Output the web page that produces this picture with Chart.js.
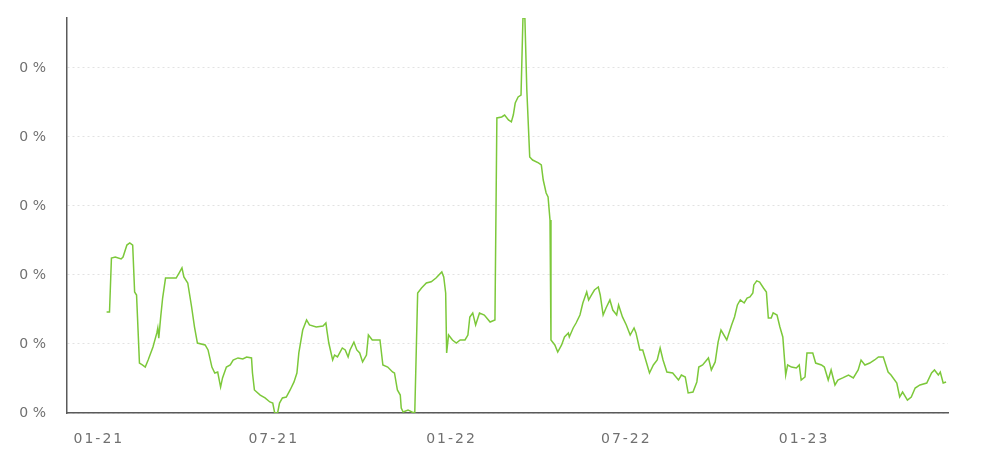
<!DOCTYPE html>
<html>
<head>
<meta charset="utf-8">
<script src="https://cdn.jsdelivr.net/npm/chart.js@4.4.1/dist/chart.umd.min.js"></script>
<style>
    html, body { margin: 0; padding: 0; background: #fff; }
    #wrap { width: 995px; height: 449px; }
</style>
</head>
<body>
<div id="wrap"><canvas id="graficoLinha"></canvas></div>
<script>
// dias contados a partir de 01/01/2021
const dias = [
    8, 11, 13, 17, 23, 25, 29, 32, 35, 37, 39, 42, 45, 48, 51, 56, 60, 61, 62, 64,
    66, 69, 73, 80, 83, 86, 88, 92, 96, 99, 102, 110, 113, 117, 120, 123, 126, 128, 132, 136,
    139, 144, 149, 153, 158, 159, 161, 167, 172, 177, 180, 182, 185, 187, 190, 194, 198, 202, 205, 207,
    211, 215, 218, 225, 232, 235, 236, 238, 242, 244, 247, 252, 255, 258, 260, 264, 267, 270, 273, 277,
    279, 283, 291, 294, 299, 304, 306, 309, 312, 313, 315, 320, 324, 327, 330, 334, 339, 344, 349, 355,
    357, 359, 360, 362, 366, 370, 374, 379, 382, 384, 387, 390, 394, 399, 405, 410, 412, 417, 420, 424,
    427, 429, 431, 434, 437, 439, 441, 443, 446, 449, 455, 458, 460, 463, 465, 467, 468, 472, 475, 479,
    482, 486, 487, 491, 494, 498, 501, 505, 507, 510, 513, 517, 519, 522, 525, 529, 532, 536, 538, 542,
    546, 550, 554, 556, 560, 563, 567, 570, 574, 578, 581, 584, 588, 594, 600, 603, 607, 610, 615, 619,
    621, 625, 631, 634, 638, 641, 644, 650, 655, 658, 661, 664, 668, 671, 674, 677, 678, 681, 684, 688,
    691, 693, 696, 698, 702, 705, 708, 711, 713, 717, 722, 725, 727, 731, 733, 739, 742, 748, 751, 755,
    758, 762, 765, 770, 776, 781, 786, 789, 793, 798, 803, 807, 812, 817, 820, 826, 829, 832, 837, 841,
    845, 850, 857, 862, 865, 869, 871, 874, 877
];

// variação em %
const valores = [
    0.0732, 0.0732, 0.1123, 0.1130, 0.1116, 0.1130, 0.1217, 0.1232, 0.1217, 0.0877,
    0.0855, 0.0362, 0.0348, 0.0333, 0.0384, 0.0478, 0.0580, 0.0616, 0.0543, 0.0696,
    0.0833, 0.0978, 0.0978, 0.0978, 0.1014, 0.1051, 0.0986, 0.0942, 0.0768, 0.0623,
    0.0507, 0.0493, 0.0457, 0.0333, 0.0290, 0.0297, 0.0188, 0.0254, 0.0333, 0.0348,
    0.0384, 0.0399, 0.0391, 0.0406, 0.0399, 0.0290, 0.0167, 0.0130, 0.0109, 0.0080,
    0.0072, 0.0000, 0.0000, 0.0072, 0.0109, 0.0116, 0.0167, 0.0225, 0.0290, 0.0435,
    0.0601, 0.0674, 0.0638, 0.0623, 0.0630, 0.0652, 0.0601, 0.0507, 0.0384, 0.0420,
    0.0406, 0.0471, 0.0457, 0.0406, 0.0457, 0.0514, 0.0457, 0.0435, 0.0370, 0.0420,
    0.0565, 0.0529, 0.0529, 0.0348, 0.0333, 0.0297, 0.0290, 0.0167, 0.0130, 0.0036,
    0.0007, 0.0022, 0.0007, 0.0000, 0.0870, 0.0906, 0.0942, 0.0951, 0.0978, 0.1022,
    0.0986, 0.0870, 0.0435, 0.0565, 0.0529, 0.0507, 0.0529, 0.0529, 0.0565, 0.0696,
    0.0725, 0.0638, 0.0725, 0.0710, 0.0659, 0.0674, 0.2138, 0.2145, 0.2159, 0.2123,
    0.2109, 0.2159, 0.2246, 0.2290, 0.2304, 0.2862, 0.2862, 0.2341, 0.1855, 0.1833,
    0.1812, 0.1797, 0.1688, 0.1594, 0.1565, 0.1399, 0.0529, 0.0493, 0.0442, 0.0493,
    0.0551, 0.0580, 0.0551, 0.0616, 0.0652, 0.0710, 0.0797, 0.0877, 0.0819, 0.0855,
    0.0891, 0.0913, 0.0855, 0.0710, 0.0761, 0.0819, 0.0746, 0.0710, 0.0783, 0.0696,
    0.0638, 0.0565, 0.0616, 0.0580, 0.0457, 0.0457, 0.0362, 0.0290, 0.0348, 0.0384,
    0.0471, 0.0384, 0.0297, 0.0290, 0.0239, 0.0275, 0.0261, 0.0145, 0.0152, 0.0225,
    0.0333, 0.0348, 0.0399, 0.0312, 0.0370, 0.0514, 0.0601, 0.0529, 0.0638, 0.0696,
    0.0783, 0.0819, 0.0797, 0.0833, 0.0841, 0.0870, 0.0928, 0.0957, 0.0949, 0.0906,
    0.0877, 0.0688, 0.0688, 0.0725, 0.0710, 0.0623, 0.0551, 0.0275, 0.0348, 0.0333,
    0.0326, 0.0348, 0.0239, 0.0261, 0.0435, 0.0435, 0.0362, 0.0348, 0.0333, 0.0239,
    0.0312, 0.0203, 0.0239, 0.0254, 0.0275, 0.0254, 0.0312, 0.0384, 0.0348, 0.0362,
    0.0384, 0.0406, 0.0406, 0.0297, 0.0275, 0.0217, 0.0116, 0.0152, 0.0094, 0.0116,
    0.0181, 0.0203, 0.0217, 0.0290, 0.0312, 0.0275, 0.0297, 0.0217, 0.0225
];

// marcas do eixo x (inicio de cada semestre) e seus rotulos
const xTicks = [0, 181, 365, 546, 730];
const xLabels = ['01-21', '07-21', '01-22', '07-22', '01-23'];

// marcas do eixo y
const yTicks = [0, 0.05, 0.10, 0.15, 0.20, 0.25];

function graficoLinha() {
    const ctx = document.getElementById('graficoLinha');

    new Chart(ctx, {
        type: 'line',
        data: {
            datasets: [{
                label: 'Variação',
                data: dias.map((d, i) => ({ x: d, y: valores[i] })),
                borderColor: '#7cc83a',
                borderWidth: 1.5,
                pointRadius: 0,
                tension: 0
            }]
        },
        options: {
            responsive: true,
            maintainAspectRatio: false,
            animation: false,
            layout: {
                padding: { left: 20, right: 47, top: 18, bottom: 1 }
            },
            plugins: {
                legend: { display: false },
                tooltip: { enabled: false }
            },
            scales: {
                x: {
                    type: 'linear',
                    min: -33,
                    max: 879,
                    afterBuildTicks: (scale) => {
                        scale.ticks = xTicks.map(v => ({ value: v }));
                    },
                    afterFit: (scale) => {
                        scale.height = 35;
                        scale.paddingLeft = 0;
                        scale.paddingRight = 0;
                        // rotulos do eixo x com letras espaçadas
                        const desenha = scale.drawLabels;
                        scale.drawLabels = function (area) {
                            this.ctx.save();
                            this.ctx.letterSpacing = '2px';
                            desenha.call(this, area);
                            this.ctx.restore();
                        };
                    },
                    grid: { display: false, drawTicks: false },
                    border: { display: true, color: '#5a5a5a', width: 1.5 },
                    ticks: {
                        padding: 18,
                        color: '#707070',
                        font: { family: 'DejaVu Sans', size: 14 },
                        maxRotation: 0,
                        callback: (v) => {
                            const i = xTicks.indexOf(v);
                            return i >= 0 ? xLabels[i] : '';
                        }
                    }
                },
                y: {
                    min: 0,
                    max: 0.2862,
                    afterBuildTicks: (scale) => {
                        scale.ticks = yTicks.map(v => ({ value: v }));
                    },
                    afterFit: (scale) => {
                        scale.width = 47;
                        scale.paddingTop = 0;
                        scale.paddingBottom = 0;
                    },
                    grid: {
                        color: '#e2e2e2',
                        drawTicks: false
                    },
                    border: { display: true, color: '#5a5a5a', width: 1.5, dash: [2, 3] },
                    ticks: {
                        padding: 21,
                        color: '#707070',
                        font: { family: 'DejaVu Sans', size: 14 },
                        callback: (v) => Math.round(v) + ' %'
                    }
                }
            }
        }
    });
}

graficoLinha();
</script>
</body>
</html>
